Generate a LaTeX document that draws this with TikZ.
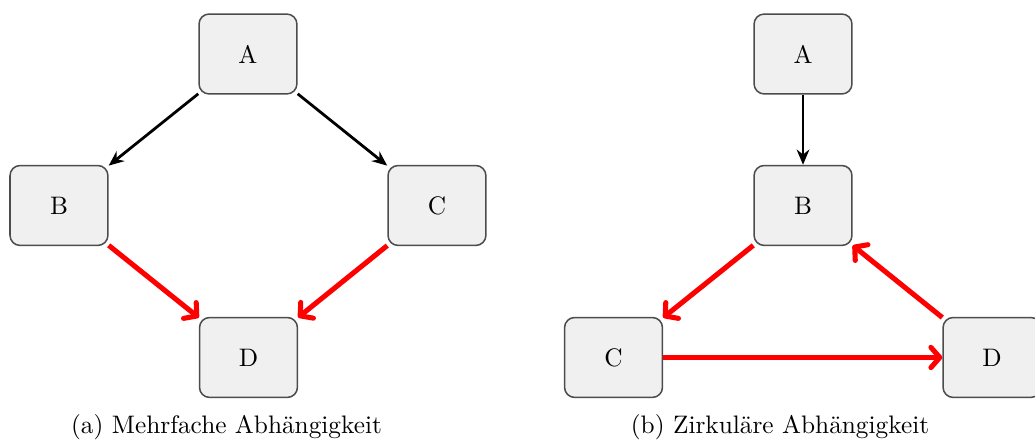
\documentclass[tikz,border=0pt]{standalone}
\usepackage{fontspec}
\usepackage{xcolor}
\usepackage{tikz}
\usetikzlibrary{arrows.meta}

\begin{document}
\begin{tikzpicture}[
    modul/.style={draw=black!70, fill=black!6, rounded corners=4pt, line width=0.6pt, minimum width=1.36cm, minimum height=1.11cm},
    arrow/.style={-{Stealth[length=6pt,width=5pt]}, line width=1.1pt},
    zyklus/.style={-{Straight Barb[length=3.5pt,width=8pt,round]}, red, line width=2pt}
]
    \useasboundingbox (0,0) rectangle (14.375,6.139);

    % (a) mehrfache Abhaengigkeit
    \node[modul] (a1) at (3.444, 5.389) {A};
    \node[modul] (b1) at (0.819, 3.285) {B};
    \node[modul] (c1) at (6.069, 3.285) {C};
    \node[modul] (d1) at (3.451, 1.174) {D};

    \draw[arrow] (a1) -- (b1);
    \draw[arrow] (a1) -- (c1);
    \draw[zyklus] (b1) -- (d1);
    \draw[zyklus] (c1) -- (d1);

    \node (capa) at (3.146, 0.21) {(a) Mehrfache Abhängigkeit};

    % (b) zirkulaere Abhaengigkeit
    \node[modul] (a2) at (11.153, 5.389) {A};
    \node[modul] (b2) at (11.153, 3.285) {B};
    \node[modul] (c2) at (8.521, 1.174) {C};
    \node[modul] (d2) at (13.778, 1.174) {D};

    \draw[arrow] (a2) -- (b2);
    \draw[zyklus] (b2) -- (c2);
    \draw[zyklus] (c2) -- (d2);
    \draw[zyklus] (d2) -- (b2);

    \node (capb) at (10.833, 0.21) {(b) Zirkuläre Abhängigkeit};
\end{tikzpicture}
\end{document}
